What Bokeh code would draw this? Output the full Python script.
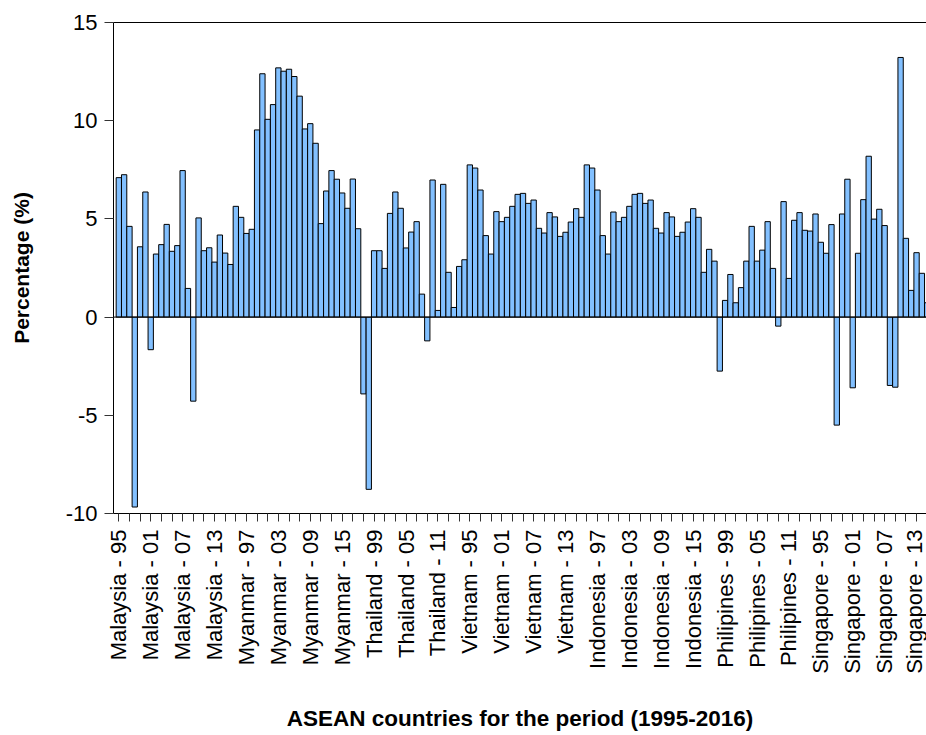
import math
from bokeh.plotting import figure
from bokeh.models import Range1d, FixedTicker, LinearAxis, Span, ColumnDataSource
from bokeh.embed import file_html
from bokeh.resources import INLINE

countries = ["Malaysia", "Myanmar", "Thailand", "Vietnam", "Indonesia", "Philipines", "Singapore"]
years = list(range(1995, 2017))

malaysia = [7.10, 7.25, 4.62, -9.67, 3.58, 6.37, -1.66, 3.21, 3.69, 4.72, 3.35,
            3.64, 7.46, 1.46, -4.28, 5.05, 3.38, 3.53, 2.80, 4.18, 3.26, 2.68]
myanmar = [5.64, 5.08, 4.26, 4.47, 9.53, 12.39, 10.07, 10.82, 12.69, 12.52, 12.62,
           12.25, 11.25, 9.58, 9.85, 8.85, 4.76, 6.42, 7.46, 7.02, 6.32, 5.54]
thailand = [7.03, 4.50, -3.91, -8.77, 3.38, 3.38, 2.48, 5.28, 6.37, 5.54, 3.52,
            4.33, 4.86, 1.17, -1.21, 6.98, 0.34, 6.76, 2.28, 0.49, 2.58, 2.92]
vietnam = [7.75, 7.59, 6.47, 4.15, 3.21, 5.37, 4.86, 5.08, 5.64, 6.25, 6.30,
           5.79, 5.96, 4.52, 4.28, 5.32, 5.10, 4.11, 4.32, 4.84, 5.52, 5.08]
indonesia = [7.75, 7.59, 6.47, 4.15, 3.21, 5.35, 4.86, 5.08, 5.64, 6.25, 6.30,
             5.79, 5.96, 4.52, 4.28, 5.32, 5.10, 4.11, 4.32, 4.84, 5.52, 5.08]
philipines = [2.28, 3.45, 2.85, -2.75, 0.85, 2.17, 0.73, 1.50, 2.85, 4.62, 2.85,
              3.41, 4.86, 2.48, -0.46, 5.88, 1.97, 4.93, 5.32, 4.42, 4.38, 5.25]
singapore = [3.81, 3.25, 4.71, -5.50, 5.25, 7.02, -3.60, 3.25, 5.98, 8.19, 4.99,
             5.49, 4.66, -3.48, -3.57, 13.22, 4.01, 1.36, 3.28, 2.23, 0.73]

y_ticks = [-10, -5, 0, 5, 10, 15]
y_tick_labels = ["-10", "-5", "0", "5", "10", "15"]

series = [malaysia, myanmar, thailand, vietnam, indonesia, philipines, singapore]
labels, values = [], []
for c, s in zip(countries, series):
    for yr, v in zip(years, s):
        labels.append(f"{c} - {yr % 100:02d}")
        values.append(v)
xs = list(range(len(values)))

src = ColumnDataSource(dict(x=xs, v=values, lab=labels))

FONT = "Liberation Sans"

p = figure(width=926, height=735, output_backend="svg", toolbar_location=None,
           x_range=Range1d(-1.0, 151.87), y_range=Range1d(-10, 15),
           min_border_left=113, min_border_right=0, min_border_top=22, min_border_bottom=222,
           background_fill_color="white", border_fill_color="white")
p.outline_line_color = None
p.xgrid.grid_line_color = None
p.ygrid.grid_line_color = None

p.vbar(x="x", top="v", bottom=0, width=1.0, source=src,
       fill_color="#82C0FF", line_color="black", line_width=1)
p.add_layout(Span(location=0, dimension="width", line_color="black", line_width=1))

# bottom axis
xa = p.xaxis[0]
even = [i for i in xs if i % 2 == 0]
xa.ticker = FixedTicker(ticks=even)
xa.major_label_overrides = {i: (labels[i] if i % 6 == 0 else "") for i in even}
xa.major_label_orientation = math.pi / 2
xa.major_label_text_font = FONT
xa.major_label_text_font_size = "22px"
xa.major_label_text_color = "black"
xa.major_label_standoff = 8
xa.major_tick_out = 8
xa.major_tick_in = 0
xa.major_tick_line_color = "#333333"
xa.minor_tick_line_color = None
xa.axis_line_color = "black"
xa.axis_label = "ASEAN countries for the period (1995-2016)"
xa.axis_label_text_font = FONT
xa.axis_label_text_font_style = "bold"
xa.axis_label_text_font_size = "22.5px"
xa.axis_label_text_color = "black"
xa.axis_label_standoff = 29

# left axis
ya = p.yaxis[0]
ya.ticker = FixedTicker(ticks=y_ticks)
ya.major_label_overrides = dict(zip(y_ticks, y_tick_labels))
ya.major_label_text_font = FONT
ya.major_label_text_font_size = "22px"
ya.major_label_text_color = "black"
ya.major_label_standoff = 7
ya.major_tick_out = 9
ya.major_tick_in = 0
ya.major_tick_line_color = "#333333"
ya.minor_tick_line_color = None
ya.axis_line_color = "black"
ya.axis_label = "Percentage (%)"
ya.axis_label_text_font = FONT
ya.axis_label_text_font_style = "bold"
ya.axis_label_text_font_size = "21px"
ya.axis_label_text_color = "black"
ya.axis_label_standoff = 30

# top border line
top = LinearAxis(ticker=FixedTicker(ticks=[]), major_tick_out=0, major_tick_in=0,
                 minor_tick_line_color=None, major_label_text_font_size="0px",
                 axis_line_color="black")
p.add_layout(top, "above")

open("out.html", "w").write(file_html(p, INLINE))
